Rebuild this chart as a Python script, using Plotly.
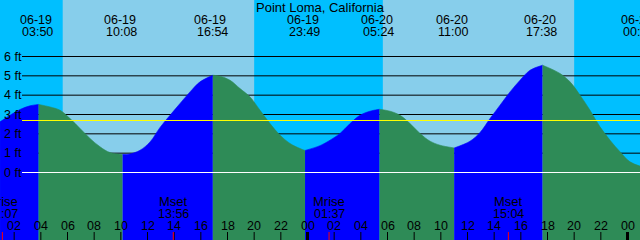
import plotly.graph_objects as go

TITLE = "Point Loma, California"

# tide extremes (hours since 06-19 00:00)
EXT_T = [3.8333, 10.1333, 16.9, 23.8167, 29.4, 35.0, 41.6333, 48.9167]
EXT_DATE = ["06-19", "06-19", "06-19", "06-19", "06-20", "06-20", "06-20", "06-21"]
EXT_TIME = ["03:50", "10:08", "16:54", "23:49", "05:24", "11:00", "17:38", "00:55"]

# tide curve (hours, feet)
CURVE_T = [0.94, 1.69, 2.44, 3.19, 3.8333, 4.69, 5.44, 6.19, 6.94, 7.69, 8.44, 9.19, 10.1333,
           10.69, 11.44, 12.19, 12.94, 13.69, 14.44, 15.19, 15.94, 16.9,
           17.44, 18.19, 18.94, 19.69, 20.44, 21.19, 21.94, 22.69, 23.44, 23.8167,
           24.94, 25.69, 26.44, 27.19, 27.94, 28.69, 29.4,
           30.19, 30.94, 31.69, 32.44, 33.19, 33.94, 35.0,
           36.19, 36.94, 37.69, 38.44, 39.19, 39.94, 40.69, 41.6333,
           42.94, 43.69, 44.44, 45.19, 45.94, 46.69, 47.44, 48.19, 48.94]
CURVE_H = [2.62, 2.96, 3.26, 3.45, 3.52, 3.39, 3.22, 2.79, 2.28, 1.76, 1.33, 1.03, 0.93,
           0.96, 1.15, 1.58, 2.33, 2.96, 3.57, 4.17, 4.69, 5.03,
           4.98, 4.77, 4.34, 3.91, 3.22, 2.53, 1.93, 1.50, 1.24, 1.14,
           1.39, 1.67, 2.02, 2.53, 2.96, 3.17, 3.27,
           3.17, 2.96, 2.53, 2.02, 1.62, 1.41, 1.27,
           1.62, 2.07, 2.79, 3.48, 4.17, 4.77, 5.29, 5.55,
           5.12, 4.69, 4.00, 3.22, 2.36, 1.67, 1.07, 0.55, 0.33]

# moon events
MOON_T = [1.1167, 13.9333, 25.6167, 39.0667]
MOON_LABEL = ["Mrise", "Mset", "Mrise", "Mset"]
MOON_TIME = ["01:07", "13:56", "01:37", "15:04"]

# night intervals (hours)
NIGHT_START = [-2.0, 20.0, 44.0]
NIGHT_END = [5.64, 29.65, 51.0]

DEPTH_LINES = [1, 2, 3, 4, 5, 6]
DEPTH_LABELS = ["1 ft", "2 ft", "3 ft", "4 ft", "5 ft", "6 ft"]
ZERO_LABEL = "0 ft"
MSL = 2.69
HOURS = list(range(2, 49, 2))

DAY = "#87CEEB"
NIGHTC = "#00BFFF"
RISE = "#0000FF"
FALL = "#2E8B57"
FONT = "Liberation Sans"

W, H = 640, 240
PX_PER_H = 13.3333
X0 = -12.5
XR = [(0 - X0) / PX_PER_H, (W - X0) / PX_PER_H]
PX_PER_FT = 19.3333
ZERO_ROW = 172.5
YR = [(ZERO_ROW - H) / PX_PER_FT, ZERO_ROW / PX_PER_FT]
BOTTOM = YR[0] - 5


def py(row):
    return (H - row) / H


fig = go.Figure()

# water fill split at extremes
idx = [0] + [CURVE_T.index(t) for t in EXT_T if t in CURVE_T] + [len(CURVE_T) - 1]
idx = sorted(set(idx))
for a, b in zip(idx[:-1], idx[1:]):
    ts = CURVE_T[a:b + 1]
    hs = CURVE_H[a:b + 1]
    col = RISE if hs[-1] > hs[0] else FALL
    fig.add_trace(go.Scatter(
        x=[ts[0], ts[-1]], y=[BOTTOM, BOTTOM], mode="lines",
        line=dict(width=0, color=col), hoverinfo="skip", showlegend=False))
    fig.add_trace(go.Scatter(
        x=ts, y=hs, fill="tonexty", fillcolor=col, mode="lines",
        line=dict(width=0.6, color=col, shape="spline", smoothing=1.0),
        hoverinfo="skip", showlegend=False))

shapes = []
for s, e in zip(NIGHT_START, NIGHT_END):
    shapes.append(dict(type="rect", xref="x", yref="paper", x0=s, x1=e, y0=0, y1=1,
                       fillcolor=NIGHTC, line=dict(width=0), layer="below"))
for d in DEPTH_LINES:
    shapes.append(dict(type="line", xref="paper", yref="y", x0=22 / W, x1=1, y0=d, y1=d,
                       line=dict(color="black", width=1), layer="below"))
shapes.append(dict(type="line", xref="paper", yref="y", x0=22 / W, x1=1, y0=0, y1=0,
                   line=dict(color="white", width=1), layer="above"))
shapes.append(dict(type="line", xref="paper", yref="y", x0=22 / W, x1=1, y0=MSL, y1=MSL,
                   line=dict(color="#FFFF00", width=1), layer="above"))
for h in HOURS:
    w = 3 if h % 24 == 0 else 1
    shapes.append(dict(type="line", xref="x", yref="paper", x0=h, x1=h, y0=0, y1=py(232),
                       line=dict(color="black", width=w), layer="above"))
for t in MOON_T:
    shapes.append(dict(type="line", xref="x", yref="paper", x0=t, x1=t, y0=0, y1=py(232),
                       line=dict(color="#FF0000", width=1), layer="above"))

ann = []
ann.append(dict(text=TITLE, xref="paper", yref="paper", x=0.5, y=py(7.5), showarrow=False,
                xanchor="center", yanchor="middle", font=dict(family=FONT, size=13, color="black")))
for t, d, tm in zip(EXT_T, EXT_DATE, EXT_TIME):
    ann.append(dict(text=d, xref="x", yref="paper", x=t, y=py(20), xshift=-2.5, showarrow=False,
                    xanchor="center", yanchor="middle", font=dict(family=FONT, size=12.5, color="black")))
    ann.append(dict(text=tm, xref="x", yref="paper", x=t, y=py(32), xshift=-0.8, showarrow=False,
                    xanchor="center", yanchor="middle", font=dict(family=FONT, size=12.5, color="black")))
for t, lb, tm in zip(MOON_T, MOON_LABEL, MOON_TIME):
    ann.append(dict(text=lb, xref="x", yref="paper", x=t, y=py(201.5), showarrow=False,
                    xanchor="center", yanchor="middle", font=dict(family=FONT, size=13, color="black")))
    ann.append(dict(text=tm, xref="x", yref="paper", x=t, y=py(214), showarrow=False,
                    xanchor="center", yanchor="middle", font=dict(family=FONT, size=12.5, color="black")))
for h in HOURS:
    ann.append(dict(text="%02d" % (h % 24), xref="x", yref="paper", x=h, y=py(225.5), showarrow=False,
                    xanchor="center", yanchor="middle", font=dict(family=FONT, size=12.5, color="black")))
for d, lb in zip([0] + DEPTH_LINES, [ZERO_LABEL] + DEPTH_LABELS):
    ann.append(dict(text=lb, xref="paper", yref="y", x=0, y=d, xshift=1.5, showarrow=False,
                    xanchor="left", yanchor="middle", font=dict(family=FONT, size=12.5, color="black")))

fig.update_layout(
    width=W, height=H, autosize=False,
    margin=dict(l=0, r=0, t=0, b=0, pad=0),
    paper_bgcolor=DAY, plot_bgcolor=DAY,
    xaxis=dict(range=XR, visible=False, fixedrange=True),
    yaxis=dict(range=YR, visible=False, fixedrange=True),
    shapes=shapes, annotations=ann, showlegend=False,
)
fig.write_html("out.html", config={"displayModeBar": False})
